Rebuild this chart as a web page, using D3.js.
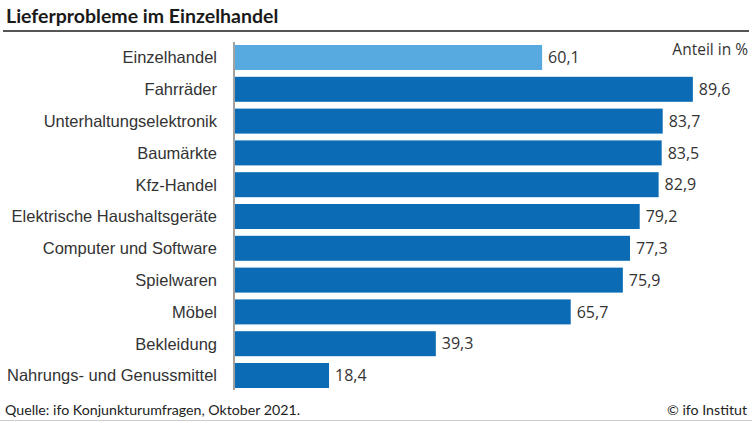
<!DOCTYPE html>
<html><head><meta charset="utf-8">
<script src="https://cdn.jsdelivr.net/npm/d3@7"></script>
<style>
body{margin:0;background:#fff;}
svg{display:block;font-family:"Open Sans",sans-serif;}
</style></head>
<body>
<svg id="c" width="752" height="423"></svg>
<script>
const categories = ["Einzelhandel","Fahrräder","Unterhaltungselektronik","Baumärkte","Kfz-Handel","Elektrische Haushaltsgeräte","Computer und Software","Spielwaren","Möbel","Bekleidung","Nahrungs- und Genussmittel"];
const values = [60.1,89.6,83.7,83.5,82.9,79.2,77.3,75.9,65.7,39.3,18.4];
const title = "Lieferprobleme im Einzelhandel";
const unitLabel = "Anteil in %";
const source = "Quelle: ifo Konjunkturumfragen, Oktober 2021.";
const credit = "© ifo Institut";

const svg = d3.select("#c");
const x = d3.scaleLinear().domain([0,100]).range([235,746]);
const y = d3.scaleBand().domain(categories).range([41.6,391.4]).paddingInner(0.214).paddingOuter(0.107);
const fmt = v => d3.format(".1f")(v).replace(".",",");

svg.append("text").attr("x",6).attr("y",23).attr("font-size",19.5).attr("font-weight","bold")
  .attr("font-family","Lato").attr("fill","#1a1a1a").text(title);
svg.append("rect").attr("x",3).attr("y",30).attr("width",746).attr("height",2).attr("fill","#555");

svg.selectAll("rect.bar").data(categories).join("rect").attr("class","bar")
  .attr("x",x(0)).attr("y",d=>y(d)).attr("height",y.bandwidth())
  .attr("width",(d,i)=>x(values[i])-x(0))
  .attr("fill",(d,i)=>i===0?"#56aadf":"#0b6cb5");

svg.selectAll("text.val").data(categories).join("text").attr("class","val")
  .attr("x",(d,i)=>x(values[i])+6).attr("y",d=>y(d)+y.bandwidth()/2)
  .attr("dy","0.36em").attr("font-size",16).attr("fill","#333").text((d,i)=>fmt(values[i]));

const ax = svg.append("g").attr("transform",`translate(${x(0)-1},0)`)
  .call(d3.axisLeft(y).tickSize(0).tickPadding(17));
ax.select(".domain").attr("stroke","#444").attr("d",`M0,42V390`);
ax.selectAll("text").attr("font-size",16.5).attr("fill","#333").attr("font-family",null).attr("dy","0.36em");

svg.append("text").attr("x",748).attr("y",55).attr("text-anchor","end").attr("font-size",15.5).attr("fill","#333").text(unitLabel);
svg.append("text").attr("x",5).attr("y",415).attr("font-size",14.2).attr("font-family","Lato").attr("fill","#222").text(source);
svg.append("text").attr("x",747).attr("y",415).attr("text-anchor","end").attr("font-size",14.2).attr("font-family","Lato").attr("fill","#222").text(credit);
svg.append("rect").attr("x",0).attr("y",420).attr("width",752).attr("height",1).attr("fill","#ccc");
</script>
</body></html>
